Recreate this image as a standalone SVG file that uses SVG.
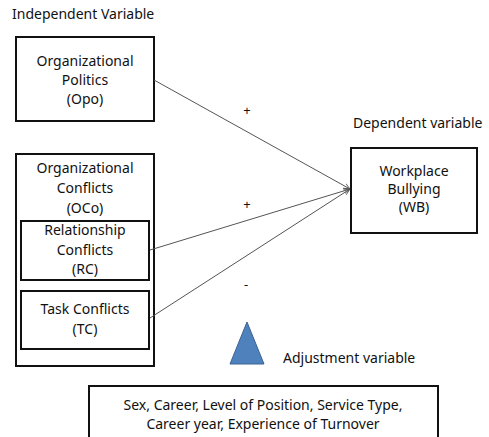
<svg xmlns="http://www.w3.org/2000/svg" width="489" height="437" viewBox="0 0 489 437">
  <style>
    text { font-family: "Noto Sans", "Open Sans", sans-serif; font-size: 14px; fill: #111; }
    .c { text-anchor: middle; }
    .sign { font-size: 13px; }
    .box { fill: #fff; stroke: #111; stroke-width: 2; }
    .link { fill: none; stroke: #555; stroke-width: 1; marker-end: url(#arr); }
  </style>
  <defs>
    <marker id="arr" viewBox="0 0 10 10" refX="9" refY="5" markerWidth="7" markerHeight="7" orient="auto" markerUnits="userSpaceOnUse">
      <path d="M0,1 L9,5 L0,9" fill="none" stroke="#555" stroke-width="1.2"/>
    </marker>
  </defs>
  <rect width="489" height="437" fill="#fff"/>

  <text x="12" y="19">Independent Variable</text>
  <text x="353" y="128">Dependent variable</text>

  <g id="opo">
    <rect class="box" x="16" y="37" width="138" height="84"/>
    <text class="c" x="85" y="66">Organizational</text>
    <text class="c" x="85" y="85">Politics</text>
    <text class="c" x="85" y="104">(Opo)</text>
  </g>

  <g id="oco">
    <rect class="box" x="16" y="154" width="138" height="212"/>
    <text class="c" x="85" y="173">Organizational</text>
    <text class="c" x="85" y="193">Conflicts</text>
    <text class="c" x="85" y="213">(OCo)</text>
  </g>

  <g id="rc">
    <rect class="box" x="21" y="221" width="128" height="59"/>
    <text class="c" x="85" y="235">Relationship</text>
    <text class="c" x="85" y="255">Conflicts</text>
    <text class="c" x="85" y="274">(RC)</text>
  </g>

  <g id="tc">
    <rect class="box" x="21" y="291" width="128" height="58"/>
    <text class="c" x="85" y="314">Task Conflicts</text>
    <text class="c" x="85" y="334">(TC)</text>
  </g>

  <g id="wb">
    <rect class="box" x="351" y="148" width="126" height="85"/>
    <text class="c" x="414" y="176">Workplace</text>
    <text class="c" x="414" y="194">Bullying</text>
    <text class="c" x="414" y="212">(WB)</text>
  </g>

  <g id="connectors">
    <line class="link" x1="154" y1="80" x2="350" y2="189"/>
    <line class="link" x1="150" y1="250" x2="350" y2="189"/>
    <line class="link" x1="150" y1="318" x2="350" y2="189"/>
    <text class="c sign" x="247" y="115">+</text>
    <text class="c sign" x="247" y="209">+</text>
    <text class="c sign" x="246" y="289">-</text>
  </g>

  <g id="adjustment">
    <polygon points="247,322 230,364 264,364" fill="#4F81BD" stroke="#3A6394" stroke-width="1"/>
    <text x="283" y="363">Adjustment variable</text>
  </g>

  <g id="controls">
    <rect class="box" x="89" y="386" width="349" height="60"/>
    <text class="c" x="263" y="410">Sex, Career, Level of Position, Service Type,</text>
    <text class="c" x="263" y="429">Career year, Experience of Turnover</text>
  </g>
</svg>
